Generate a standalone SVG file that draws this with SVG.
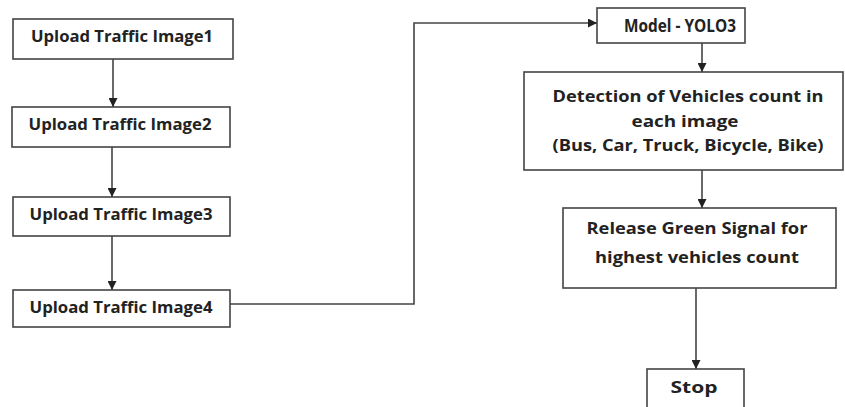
<svg xmlns="http://www.w3.org/2000/svg" width="845" height="407" viewBox="0 0 845 407">
<style>
.box{fill:#fff;stroke:#444;stroke-width:1.6}
.t{font-family:"Open Sans","DejaVu Sans",sans-serif;font-weight:bold;font-size:15.5px;fill:#222;text-anchor:middle}
.c{fill:none;stroke:#444;stroke-width:1.6}
</style>
<defs>
<marker id="ah" viewBox="0 0 10 10" refX="10" refY="5" markerWidth="9" markerHeight="9" markerUnits="userSpaceOnUse" orient="auto">
<path d="M0,0 L10,5 L0,10 Z" fill="#222"/>
</marker>
</defs>
<rect width="845" height="407" fill="#fff"/>
<g id="connectors">
<path class="c" d="M113,59 V107" marker-end="url(#ah)"/>
<path class="c" d="M112,147 V197" marker-end="url(#ah)"/>
<path class="c" d="M112,236 V290" marker-end="url(#ah)"/>
<path class="c" d="M230,304 H414 V23 H597" marker-end="url(#ah)"/>
<path class="c" d="M702,43 V72" marker-end="url(#ah)"/>
<path class="c" d="M702,170 V208" marker-end="url(#ah)"/>
<path class="c" d="M696,288 V369" marker-end="url(#ah)"/>
</g>
<g id="img1"><rect class="box" x="13" y="19" width="220" height="40"/><text class="t" x="122" y="42" textLength="182" lengthAdjust="spacingAndGlyphs">Upload Traffic Image1</text></g>
<g id="img2"><rect class="box" x="12" y="107" width="218" height="40"/><text class="t" x="120" y="130" textLength="183" lengthAdjust="spacingAndGlyphs">Upload Traffic Image2</text></g>
<g id="img3"><rect class="box" x="13" y="197" width="217" height="39"/><text class="t" x="121" y="220" textLength="183" lengthAdjust="spacingAndGlyphs">Upload Traffic Image3</text></g>
<g id="img4"><rect class="box" x="13" y="290" width="217" height="37"/><text class="t" x="121" y="313" textLength="183" lengthAdjust="spacingAndGlyphs">Upload Traffic Image4</text></g>
<g id="model"><rect class="box" x="597" y="8" width="148" height="35"/><text class="t" x="680" y="32" style="font-size:17px" textLength="112" lengthAdjust="spacingAndGlyphs">Model - YOLO3</text></g>
<g id="detect"><rect class="box" x="524" y="72" width="319" height="98"/>
<text class="t" x="688" y="102" textLength="271" lengthAdjust="spacingAndGlyphs">Detection of Vehicles count in</text>
<text class="t" x="685" y="127" textLength="107" lengthAdjust="spacingAndGlyphs">each image</text>
<text class="t" x="688" y="151" textLength="271" lengthAdjust="spacingAndGlyphs">(Bus, Car, Truck, Bicycle, Bike)</text></g>
<g id="release"><rect class="box" x="563" y="208" width="273" height="80"/>
<text class="t" x="697" y="234" textLength="221" lengthAdjust="spacingAndGlyphs">Release Green Signal for</text>
<text class="t" x="697" y="263" textLength="204" lengthAdjust="spacingAndGlyphs">highest vehicles count</text></g>
<g id="stop"><rect class="box" x="647" y="369" width="97" height="50"/><text class="t" x="694" y="393" textLength="47" lengthAdjust="spacingAndGlyphs">Stop</text></g>
</svg>
